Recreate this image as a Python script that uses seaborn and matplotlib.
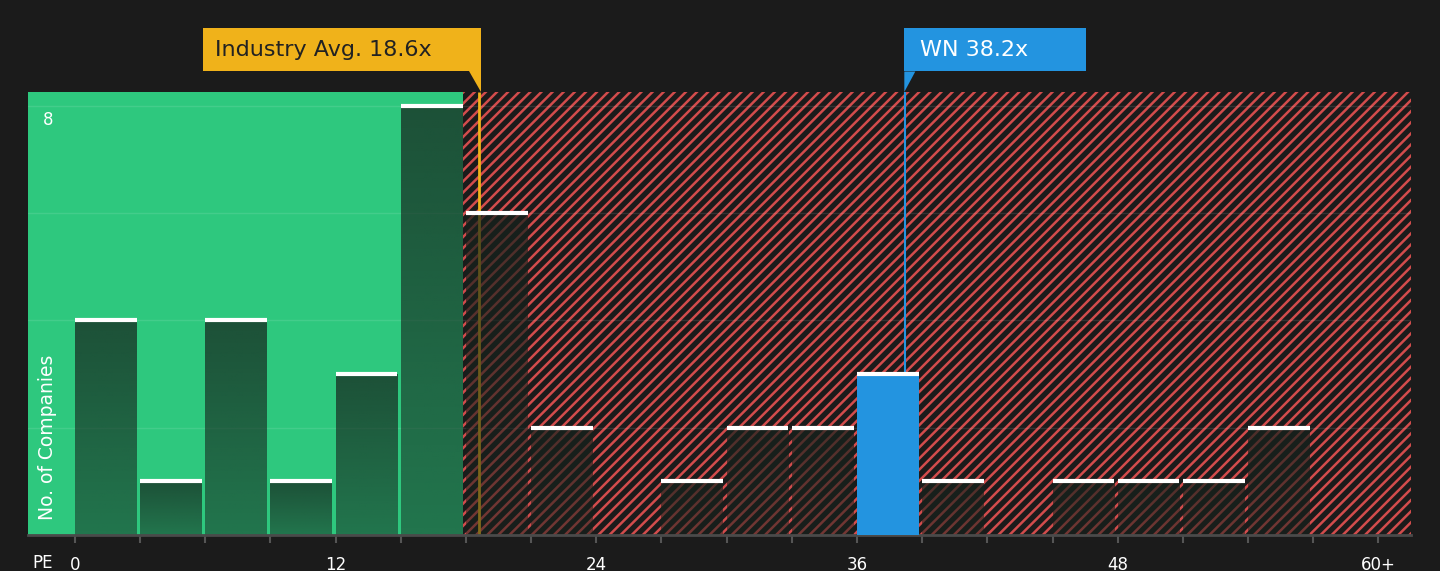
import numpy as np
import pandas as pd
import matplotlib
matplotlib.use("Agg")
import matplotlib.pyplot as plt
import matplotlib.transforms as mtransforms
from matplotlib.patches import Rectangle, Polygon
import seaborn as sns

# ---- data ----
bin_left = [0, 3, 6, 9, 12, 15, 18, 21, 24, 27, 30, 33, 36, 39, 42, 45, 48, 51, 54, 57]
counts = [4, 1, 4, 1, 3, 8, 6, 2, 0, 1, 2, 2, 3, 1, 0, 1, 1, 1, 2, 0]
tick_values = [0, 12, 24, 36, 48, 60]
tick_labels = ["0", "12", "24", "36", "48", "60+"]
industry_avg = 18.6
company_pe = 38.2
company_name = "WN"
y_max_label = 8

BG = "#1b1b1b"
GREEN = "#2ec87e"
RED = "#d24c4c"
GOLD = "#f0b21a"
BLUE = "#2394e0"

sns.set_theme(style="dark")
plt.rcParams["font.family"] = ["DejaVu Sans"]
plt.rcParams["hatch.linewidth"] = 1.8
plt.rcParams["hatch.color"] = RED

fig = plt.figure(figsize=(14.4, 5.71), dpi=100, facecolor=BG)
ax = fig.add_axes([28 / 1440, 36 / 571, (1411 - 28) / 1440, (535 - 92) / 571])
ax.set_facecolor(BG)

binw = 3.0
barw = 0.947
xmin, xmax = -2.16, 61.5
ymax = 8.26
boundary = 15 + binw * barw

# background zones
ax.axvspan(xmin, boundary, color=GREEN, zorder=0, lw=0)
ax.add_patch(Rectangle((boundary, 0), xmax - boundary, ymax, facecolor=BG,
                       edgecolor=RED, hatch="///", lw=0, zorder=0.5))

# grid
for gy in [2, 4, 6, 8]:
    ax.axhline(gy, color="white", alpha=0.1, lw=1, zorder=1)

# industry avg line (behind bars)
ax.plot([industry_avg, industry_avg], [0, ymax], color=GOLD, lw=2, zorder=1.5, solid_capstyle="butt")

df = pd.DataFrame({"center": [b + binw * barw / 2 for b in bin_left], "count": counts})
sns.barplot(data=df, x="center", y="count", native_scale=True, width=barw,
            color="#222222", errorbar=None, ax=ax, zorder=2, linewidth=0, edgecolor="none")

# gradient image (dark at top, lighter at bottom)
grad = np.zeros((64, 1, 4))
grad[..., 0] = 22 / 255
grad[..., 1] = 34 / 255
grad[..., 2] = 28 / 255
grad[:, 0, 3] = np.linspace(0.72, 0.5, 64)

bars = [p for p in ax.patches if p.get_zorder() == 2]
for p, left, c in zip(bars, bin_left, counts):
    x0 = p.get_x()
    w = p.get_width()
    h = p.get_height()
    p.set_linewidth(0)
    if c == 0:
        p.set_visible(False)
        continue
    if left <= company_pe < left + binw:
        p.set_facecolor(BLUE)
        p.set_alpha(1)
        p.set_zorder(3)
    else:
        p.set_facecolor("none")
        im = ax.imshow(grad, extent=[x0, x0 + w, 0, h], aspect="auto", origin="upper",
                       zorder=2.1, interpolation="bilinear")
        im.set_clip_path(p)
    ax.plot([x0, x0 + w], [h, h], color="white", lw=3, zorder=4, solid_capstyle="butt")

# company line
ax.plot([company_pe, company_pe], [counts[bin_left.index(36)], ymax], color=BLUE, lw=1.5, zorder=3)

ax.set_xlim(xmin, xmax)
ax.set_ylim(0, ymax)
ax.set_xticks(np.arange(0, 61, 3))
ax.set_xticklabels([tick_labels[tick_values.index(t)] if t in tick_values else "" for t in range(0, 61, 3)])
ax.tick_params(axis="x", colors="#555555", length=6, width=1.5, pad=9, labelsize=12,
               labelcolor="white", direction="out", bottom=True)
ax.set_yticks([])
ax.set_xlabel("")
ax.set_ylabel("")
for s in ["left", "right", "top"]:
    ax.spines[s].set_visible(False)
ax.spines["bottom"].set_color("#4a4a4a")
ax.spines["bottom"].set_linewidth(2)
ax.grid(False)

trans = mtransforms.blended_transform_factory(ax.transData, ax.transAxes)
ax.text(-1.5, -0.063, "PE", transform=trans, color="white", fontsize=12, ha="center", va="center")
ax.text(-1.24, 7.74, str(y_max_label), color="white", fontsize=12, ha="center", va="center", zorder=5)
ax.text(-1.24, 0.28, "No. of Companies", color="white", fontsize=13.5, rotation=90,
        ha="center", va="bottom", zorder=5)

# annotation boxes
px = 1 / 21.72
ay = lambda pix: (535 - pix) / 443
# industry
r = industry_avg + 2 * px
ax.add_patch(Rectangle((r - 278 * px, ay(71)), 278 * px, ay(28) - ay(71), transform=trans,
                       facecolor=GOLD, edgecolor="none", clip_on=False, zorder=6))
ax.add_patch(Polygon([(r - 12 * px, ay(71.5)), (r, ay(71.5)), (r, ay(92))], closed=True, transform=trans,
                     facecolor=GOLD, edgecolor="none", clip_on=False, zorder=6))
ax.text(r - 266 * px, ay(50), f"Industry Avg. {industry_avg}x", transform=trans, color="#222222",
        fontsize=16, ha="left", va="center", zorder=7)
# company
l = company_pe - 0.5 * px
ax.add_patch(Rectangle((l, ay(71)), 182 * px, ay(28) - ay(71), transform=trans,
                       facecolor=BLUE, edgecolor="none", clip_on=False, zorder=6))
ax.add_patch(Polygon([(l, ay(71.5)), (l + 11 * px, ay(71.5)), (l, ay(92))], closed=True, transform=trans,
                     facecolor=BLUE, edgecolor="none", clip_on=False, zorder=6))
ax.text(l + 16 * px, ay(50), f"{company_name} {company_pe}x", transform=trans, color="white",
        fontsize=16, ha="left", va="center", zorder=7)

fig.savefig("out.png", dpi=100, facecolor=BG)
